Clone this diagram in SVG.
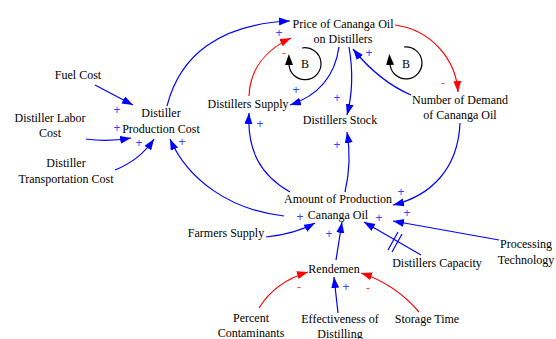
<svg xmlns="http://www.w3.org/2000/svg" width="556" height="339" viewBox="0 0 556 339" font-family="'Liberation Serif', 'Times New Roman', serif">
<style>
text{font-family:"Liberation Serif","Times New Roman",serif;font-size:12px;fill:#000;text-anchor:middle}
.b{fill:none;stroke:#0000ff;stroke-width:1.2}
.r{fill:none;stroke:#ff0000;stroke-width:1.2}
.k{fill:none;stroke:#000;stroke-width:1.2}
text.p{fill:#4040ff;font-family:"Liberation Sans",Arial,sans-serif;font-size:12px}
text.m{fill:#ff4040;font-family:"Liberation Sans",Arial,sans-serif;font-size:12px}
</style>
<defs>
<marker id="ab" markerUnits="userSpaceOnUse" markerWidth="12" markerHeight="9" refX="11" refY="4" orient="auto"><path d="M0,0 L11,4 L0,8 z" fill="#0000ff"/></marker>
<marker id="ar" markerUnits="userSpaceOnUse" markerWidth="12" markerHeight="9" refX="11" refY="4" orient="auto"><path d="M0,0 L11,4 L0,8 z" fill="#ff0000"/></marker>
<marker id="ak" markerUnits="userSpaceOnUse" markerWidth="12" markerHeight="9" refX="1" refY="4" orient="auto"><path d="M0,0 L11,4 L0,8 z" fill="#000"/></marker>
</defs>
<g id="connectors">
<path class="b" marker-end="url(#ab)" d="M167,106 C180,55 220,24 290,21"/>
<path class="r" marker-end="url(#ar)" d="M249,96 C250,70 265,50 291,38"/>
<path class="b" marker-end="url(#ab)" d="M339,47 C335,75 320,95 290,105"/>
<path class="b" marker-end="url(#ab)" d="M349,47 C353,70 353,92 347,115"/>
<path class="b" marker-end="url(#ab)" d="M411,95 C390,86 370,70 353,49"/>
<path class="r" marker-end="url(#ar)" d="M395,25 C432,30 456,60 458,92"/>
<path class="k" marker-end="url(#ak)" d="M302,48 A16,16 0 1 1 289,64"/>
<path class="k" marker-end="url(#ak)" d="M404,47 A16,16 0 1 1 390,64"/>
<path class="b" marker-end="url(#ab)" d="M95,85 L133,105"/>
<path class="b" marker-end="url(#ab)" d="M86,139 Q108,142 131,138"/>
<path class="b" marker-end="url(#ab)" d="M115,170 Q140,160 154,139"/>
<path class="b" marker-end="url(#ab)" d="M284,216 C230,210 188,180 170,139"/>
<path class="b" marker-end="url(#ab)" d="M290,192 C260,175 247,150 249,113"/>
<path class="b" marker-end="url(#ab)" d="M345,192 Q352,162 347,132"/>
<path class="b" marker-end="url(#ab)" d="M460,123 C458,170 430,196 393,205"/>
<path class="b" marker-end="url(#ab)" d="M499,240 L393,221"/>
<path class="b" marker-end="url(#ab)" d="M421,255 L364,222"/>
<path class="b" d="M392,252 L402,234 M388,250 L398,232"/>
<path class="b" marker-end="url(#ab)" d="M266,237 Q295,234 315,223"/>
<path class="b" marker-end="url(#ab)" d="M336,260 L342,222"/>
<path class="r" marker-end="url(#ar)" d="M259,308 Q275,282 308,272"/>
<path class="b" marker-end="url(#ab)" d="M338,313 L334,277"/>
<path class="r" marker-end="url(#ar)" d="M419,312 Q395,284 361,273"/>
</g>
<g id="polarities">
<text class="p" x="279" y="37">+</text>
<text class="m" x="284" y="57">-</text>
<text class="p" x="296" y="94">+</text>
<text class="p" x="337" y="102">+</text>
<text class="p" x="369" y="57">+</text>
<text class="m" x="443" y="87">-</text>
<text class="p" x="117" y="114">+</text>
<text class="p" x="117" y="132">+</text>
<text class="p" x="139" y="147">+</text>
<text class="p" x="182" y="146">+</text>
<text class="p" x="260" y="128">+</text>
<text class="p" x="337" y="149">+</text>
<text class="p" x="401" y="196">+</text>
<text class="p" x="407" y="217">+</text>
<text class="p" x="379" y="222">+</text>
<text class="p" x="300" y="221">+</text>
<text class="p" x="329" y="238">+</text>
<text class="m" x="299" y="291">-</text>
<text class="p" x="346" y="291">+</text>
<text class="m" x="368" y="292">-</text>
</g>
<g id="loop-left"><text x="305" y="68">B</text></g>
<g id="loop-right"><text x="406" y="68">B</text></g>
<g id="price"><text x="343" y="28">Price of Cananga Oil</text><text x="343" y="43">on Distillers</text></g>
<g id="distillers-supply"><text x="248" y="108">Distillers Supply</text></g>
<g id="distillers-stock"><text x="340" y="124">Distillers Stock</text></g>
<g id="demand"><text x="460" y="104">Number of Demand</text><text x="460" y="119">of Cananga Oil</text></g>
<g id="fuel-cost"><text x="78" y="79">Fuel Cost</text></g>
<g id="labor-cost"><text x="50" y="122">Distiller Labor</text><text x="50" y="137">Cost</text></g>
<g id="transport-cost"><text x="66" y="167">Distiller</text><text x="66" y="183">Transportation Cost</text></g>
<g id="production-cost"><text x="161" y="117">Distiller</text><text x="161" y="133">Production Cost</text></g>
<g id="amount"><text x="338" y="203">Amount of Production</text><text x="338" y="219">Cananga Oil</text></g>
<g id="farmers-supply"><text x="226" y="237">Farmers Supply</text></g>
<g id="rendemen"><text x="334" y="273">Rendemen</text></g>
<g id="capacity"><text x="437" y="267">Distillers Capacity</text></g>
<g id="technology"><text x="526" y="248">Processing</text><text x="526" y="264">Technology</text></g>
<g id="contaminants"><text x="251" y="322">Percent</text><text x="251" y="337">Contaminants</text></g>
<g id="effectiveness"><text x="340" y="323">Effectiveness of</text><text x="340" y="338">Distilling</text></g>
<g id="storage"><text x="427" y="323">Storage Time</text></g>
</svg>
